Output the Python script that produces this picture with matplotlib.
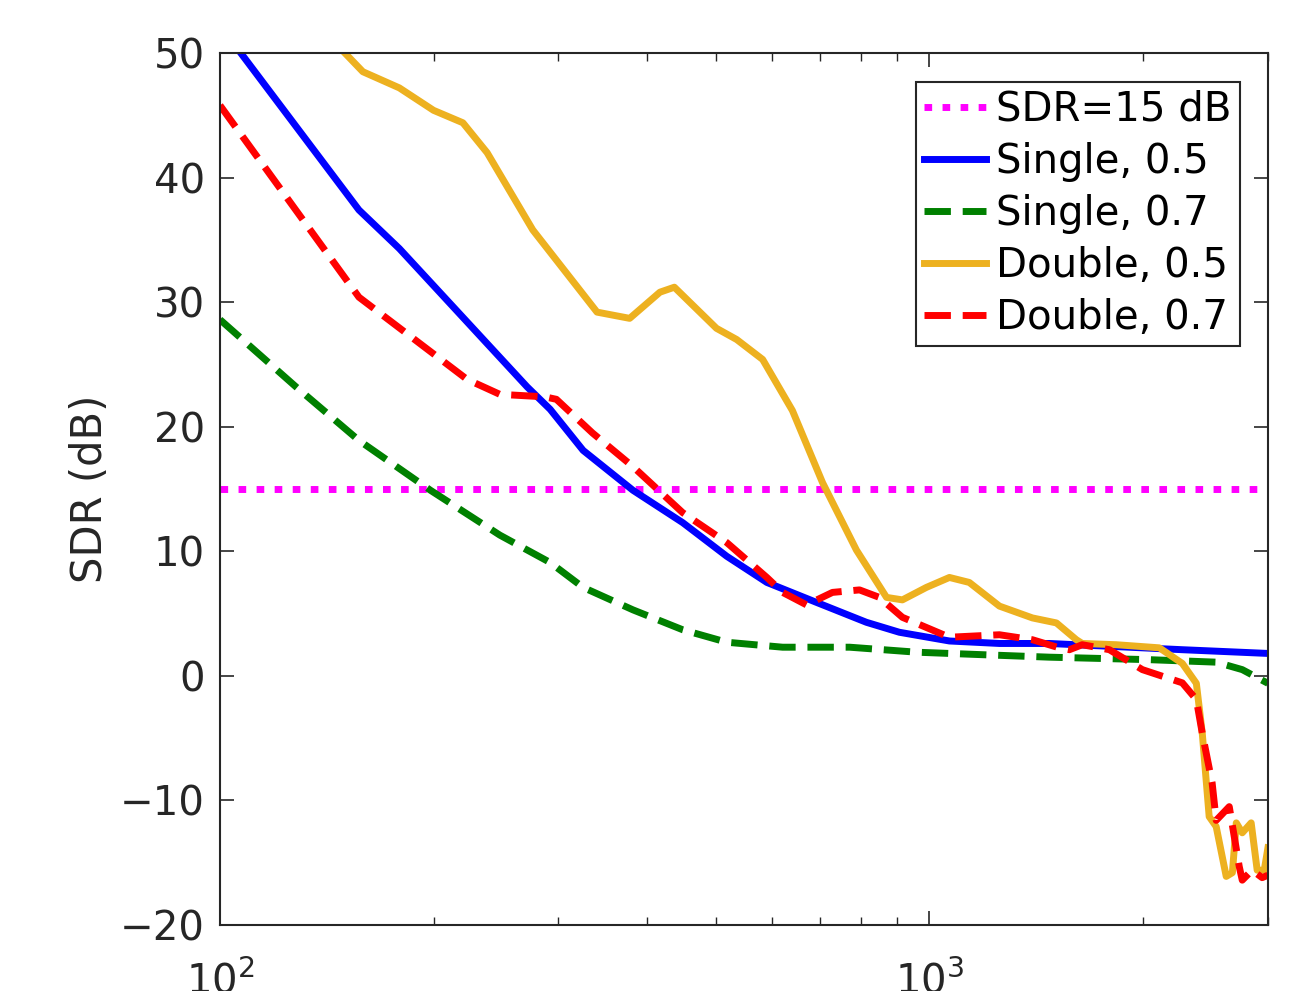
import matplotlib
matplotlib.use("Agg")
import matplotlib.pyplot as plt
from matplotlib.ticker import LogLocator, NullFormatter

plt.rcParams['font.family'] = ['DejaVu Sans']
plt.rcParams['axes.unicode_minus'] = True

# Single, 0.5
x_s05 = [107, 157, 179, 271, 292, 325, 382, 449, 518, 590, 693, 815, 907, 1067, 1255, 1476, 2272, 3000]
y_s05 = [50, 37.4, 34.3, 23.2, 21.4, 18.1, 14.9, 12.3, 9.6, 7.5, 5.9, 4.3, 3.5, 2.8, 2.6, 2.6, 2.1, 1.8]

# Single, 0.7
x_s07 = [100, 128, 157, 198, 248, 292, 325, 382, 449, 518, 621, 772, 959, 1187, 1476, 2041, 2536, 2760, 3000]
y_s07 = [28.6, 23.2, 18.9, 14.9, 11.3, 9.1, 7.1, 5.3, 3.7, 2.7, 2.3, 2.3, 1.9, 1.7, 1.5, 1.3, 1.1, 0.5, -0.6]

# Double, 0.5
x_d05 = [150, 159, 179, 200, 220, 238, 276, 340, 378, 417, 437, 501, 535, 582, 641, 707, 789, 870,
         916, 990, 1067, 1138, 1255, 1397, 1510, 1611, 1642, 1834, 2109, 2272, 2378, 2424, 2479, 2536,
         2620, 2673, 2707, 2760, 2841, 2897, 2964, 3000]
y_d05 = [50, 48.5, 47.2, 45.4, 44.4, 42, 35.8, 29.2, 28.7, 30.8, 31.2, 27.9, 27.0, 25.4, 21.3, 15.5, 10.1, 6.3,
         6.1, 7.1, 7.9, 7.5, 5.6, 4.65, 4.25, 2.9, 2.6, 2.5, 2.25, 1.0, -0.6, -4.6, -11.3, -12.1,
         -16.1, -15.8, -11.8, -12.6, -11.8, -15.6, -15.6, -13.8]

# Double, 0.7
x_d07 = [100, 157, 223, 248, 287, 298, 335, 382, 449, 518, 590, 621, 671, 730, 797, 850, 916, 1067, 1255,
         1397, 1524, 1575, 1642, 1793, 1996, 2272, 2378, 2424, 2503, 2536, 2646, 2733, 2760, 2850, 2944, 3000]
y_d07 = [45.8, 30.4, 23.8, 22.6, 22.4, 22.2, 19.5, 16.8, 13.1, 10.7, 7.9, 6.7, 5.7, 6.7, 6.9, 6.3, 4.7, 3.1, 3.3,
         2.9, 2.25, 2.1, 2.5, 2.1, 0.5, -0.56, -1.9, -4.6, -8.6, -11.6, -10.5, -15.3, -16.4, -15.6, -16.2, -16.0]

sdr_ref = 15
x_lim = [100, 3000]
y_ticks = [-20, -10, 0, 10, 20, 30, 40, 50]

fig = plt.figure(figsize=(13.03, 9.91), dpi=100)
ax = fig.add_axes([0.1688, 0.0666, 0.8043, 0.8799])

lw = 5
ax.plot(x_lim, [sdr_ref, sdr_ref], color='#ff00ff', lw=lw, linestyle=(0, (1.1, 1.5)), label='SDR=15 dB')
ax.plot(x_s05, y_s05, color='#0000ff', lw=lw, label='Single, 0.5')
ax.plot(x_s07, y_s07, color='#008000', lw=lw, linestyle=(0, (3.8, 1.7)), label='Single, 0.7')
ax.plot(x_d05, y_d05, color='#edb120', lw=lw, label='Double, 0.5')
ax.plot(x_d07, y_d07, color='#ff0000', lw=lw, linestyle=(0, (3.8, 1.7)), label='Double, 0.7')

ax.set_xscale('log')
ax.set_xlim(x_lim)
ax.set_ylim(-20, 50)
ax.set_yticks(y_ticks)
ax.xaxis.set_minor_locator(LogLocator(base=10, subs=range(2, 10)))
ax.xaxis.set_minor_formatter(NullFormatter())

for s in ax.spines.values():
    s.set_color('#262626')
    s.set_linewidth(1.5)
ax.tick_params(which='both', direction='in', top=True, right=True, colors='#262626',
               labelsize=29, labelcolor='#262626')
ax.tick_params(which='major', length=10, width=1.2)
ax.tick_params(which='minor', length=6, width=1.0)
ax.tick_params(axis='x', pad=26)
ax.tick_params(axis='y', pad=11)

ax.set_ylabel('SDR (dB)', fontsize=30, color='#262626', labelpad=6)

leg = ax.legend(loc='upper right', bbox_to_anchor=(0.973, 0.967), fontsize=29, handlelength=1.55,
                handletextpad=0.25, labelspacing=0.3, borderpad=0.2, borderaxespad=0,
                fancybox=False, framealpha=1)
leg.get_frame().set_edgecolor('#262626')
leg.get_frame().set_linewidth(1.5)

fig.savefig('out.png', dpi=100)
